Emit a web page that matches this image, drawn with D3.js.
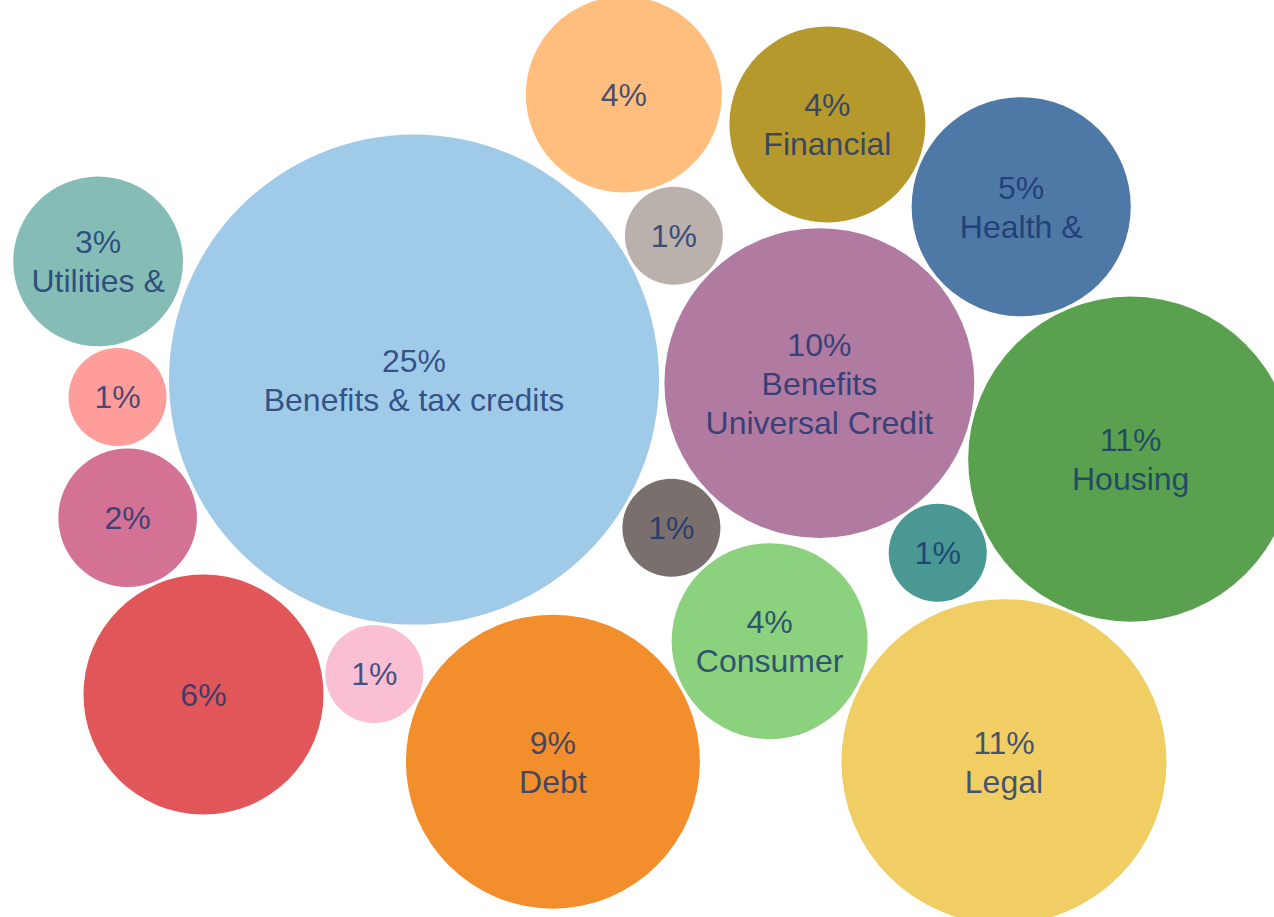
<!DOCTYPE html>
<html>
<head>
<meta charset="utf-8">
<script src="https://cdn.jsdelivr.net/npm/d3@7"></script>
<style>
  html, body { margin: 0; padding: 0; background: #ffffff; }
  svg { display: block; }
  .bubble-label { font-family: "Liberation Sans", Arial, sans-serif; }
</style>
</head>
<body>
<div id="chart"></div>
<script>
// Share of enquiries by topic (percent)
const shares = [25, 10, 11, 11, 9, 6, 5, 4, 4, 4, 3, 2, 1, 1, 1, 1, 1];

// Text shown under each percentage (blank where the bubble is too small for it)
const topicLabels = [
  ["Benefits & tax credits"],
  ["Benefits", "Universal Credit"],
  ["Housing"],
  ["Legal"],
  ["Debt"],
  [],
  ["Health &"],
  ["Financial"],
  [],
  ["Consumer"],
  ["Utilities &"],
  [],
  [], [], [], [], []
];

// Topic colours
const palette = [
  "#A0CBE8", "#B07AA1", "#59A14F", "#F1CE63", "#F28E2B", "#E15759",
  "#4E79A7", "#B6992D", "#FFBE7D", "#8CD17D", "#86BCB6", "#D37295",
  "#FF9D9A", "#FABFD2", "#BAB0AC", "#79706E", "#499894"
];

// Packing anchors, in percent of the drawing width / height
const anchorX = [32.8, 64.4, 87.9, 78.5, 43.0, 16.4, 80.2, 65.0, 49.4, 60.1, 7.9, 10.9, 9.9, 29.7, 53.1, 53.4, 73.6];
const anchorY = [41.7, 41.8, 50.1, 82.4, 82.6, 74.4, 22.8, 13.6, 12.0, 69.1, 30.4, 56.4, 44.8, 73.2, 26.9, 56.7, 59.4];

const width = 1274, height = 917;

const svg = d3.select("#chart").append("svg")
  .attr("width", width)
  .attr("height", height);

const x = d3.scaleLinear().domain([0, 100]).range([0, width]);
const y = d3.scaleLinear().domain([0, 100]).range([0, height]);
const r = d3.scaleSqrt().domain([0, 25]).range([0, 245]);

const nodes = shares.map((v, i) => ({
  value: v,
  lines: [v + "%"].concat(topicLabels[i]),
  color: palette[i],
  tx: x(anchorX[i]),
  ty: y(anchorY[i]),
  x: x(anchorX[i]),
  y: y(anchorY[i]),
  r: r(v)
}));

// Settle the bubbles around their anchors without overlaps
const sim = d3.forceSimulation(nodes)
  .force("x", d3.forceX(d => d.tx).strength(0.35))
  .force("y", d3.forceY(d => d.ty).strength(0.35))
  .force("collide", d3.forceCollide(d => d.r + 1.5).strength(1).iterations(4))
  .stop();
for (let i = 0; i < 400; i++) sim.tick();

const g = svg.append("g");

const bubble = g.selectAll("g.bubble")
  .data(nodes)
  .join("g")
  .attr("class", "bubble")
  .attr("transform", d => `translate(${d.x},${d.y})`);

bubble.append("circle")
  .attr("r", d => d.r)
  .attr("fill", d => d.color);

const fontSize = 32, lineH = 39;

bubble.append("text")
  .attr("class", "bubble-label")
  .attr("text-anchor", "middle")
  .attr("font-size", fontSize)
  .attr("fill", "rgba(22,50,108,0.8)")
  .selectAll("tspan")
  .data(d => d.lines.map((t, i) => ({ t, i, n: d.lines.length })))
  .join("tspan")
  .attr("x", 0)
  .attr("y", d => (d.i - (d.n - 1) / 2) * lineH)
  .attr("dy", "0.36em")
  .text(d => d.t);
</script>
</body>
</html>
